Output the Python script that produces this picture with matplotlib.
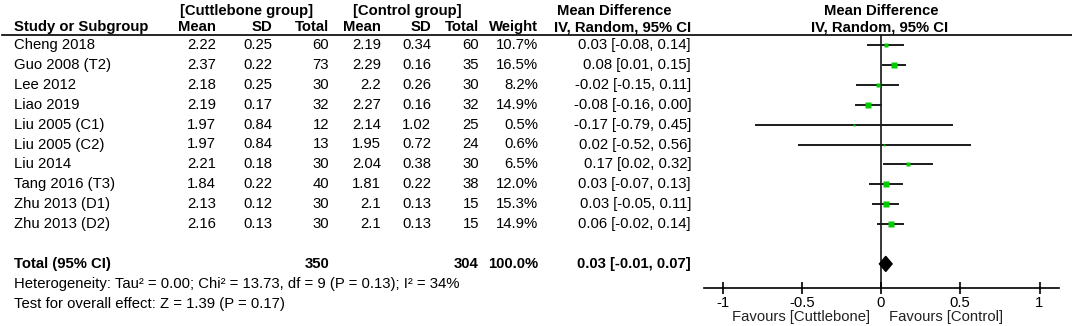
import matplotlib
matplotlib.use("Agg")
import matplotlib.pyplot as plt

plt.rcParams['font.family'] = ['Liberation Sans', 'DejaVu Sans']

# Study data
studies = ["Cheng 2018", "Guo 2008 (T2)", "Lee 2012", "Liao 2019", "Liu 2005 (C1)",
           "Liu 2005 (C2)", "Liu 2014", "Tang 2016 (T3)", "Zhu 2013 (D1)", "Zhu 2013 (D2)"]
cut_mean = [2.22, 2.37, 2.18, 2.19, 1.97, 1.97, 2.21, 1.84, 2.13, 2.16]
cut_sd = [0.25, 0.22, 0.25, 0.17, 0.84, 0.84, 0.18, 0.22, 0.12, 0.13]
cut_n = [60, 73, 30, 32, 12, 13, 30, 40, 30, 30]
ctl_mean = [2.19, 2.29, 2.2, 2.27, 2.14, 1.95, 2.04, 1.81, 2.1, 2.1]
ctl_sd = [0.34, 0.16, 0.26, 0.16, 1.02, 0.72, 0.38, 0.22, 0.13, 0.13]
ctl_n = [60, 35, 30, 32, 25, 24, 30, 38, 15, 15]
weights = [10.7, 16.5, 8.2, 14.9, 0.5, 0.6, 6.5, 12.0, 15.3, 14.9]
md = [0.03, 0.08, -0.02, -0.08, -0.17, 0.02, 0.17, 0.03, 0.03, 0.06]
ci_lo = [-0.08, 0.01, -0.15, -0.16, -0.79, -0.52, 0.02, -0.07, -0.05, -0.02]
ci_hi = [0.14, 0.15, 0.11, 0.00, 0.45, 0.56, 0.32, 0.13, 0.11, 0.14]

total_cut_n = 350
total_ctl_n = 304
total_weight = 100.0
total_md = 0.03
total_lo = -0.01
total_hi = 0.07

heterogeneity = "Heterogeneity: Tau² = 0.00; Chi² = 13.73, df = 9 (P = 0.13); I² = 34%"
overall = "Test for overall effect: Z = 1.39 (P = 0.17)"
xticks = [-1, -0.5, 0, 0.5, 1]
xtick_labels = ["-1", "-0.5", "0", "0.5", "1"]

W, H = 1072, 326
FS = 10.7
ROW0, ROWH = 45, 19.9
TOTAL_ROW = 11


def row_y(i):
    return ROW0 + ROWH * i


fig = plt.figure(figsize=(W / 100, H / 100), dpi=100)

# text table, pixel coordinates
tax = fig.add_axes([0, 0, 1, 1])
tax.set_xlim(0, W)
tax.set_ylim(H, 0)
tax.axis("off")

# header
tax.text(180, 11, "[Cuttlebone group]", fontsize=FS, weight="bold", va="center")
tax.text(353, 11, "[Control group]", fontsize=FS, weight="bold", va="center")
tax.text(614, 11, "Mean Difference", fontsize=FS, weight="bold", va="center", ha="center")
tax.text(881, 11, "Mean Difference", fontsize=FS, weight="bold", va="center", ha="center")

cols = [(216, "Mean"), (272, "SD"), (329, "Total"), (381, "Mean"), (431, "SD"),
        (479, "Total"), (538, "Weight"), (691, "IV, Random, 95% CI")]
tax.text(14, 27, "Study or Subgroup", fontsize=FS, weight="bold", va="center")
for x, lab in cols:
    tax.text(x, 27, lab, fontsize=FS, weight="bold", va="center", ha="right")
tax.text(880, 27, "IV, Random, 95% CI", fontsize=FS, weight="bold", va="center", ha="center")
tax.plot([2, W], [35, 35], color="black", lw=1.2)

# study rows
for i, name in enumerate(studies):
    y = row_y(i)
    vals = [str(cut_mean[i]), str(cut_sd[i]), str(cut_n[i]),
            str(ctl_mean[i]), str(ctl_sd[i]), str(ctl_n[i]),
            "%.1f%%" % weights[i],
            "%.2f [%.2f, %.2f]" % (md[i], ci_lo[i], ci_hi[i])]
    tax.text(14, y, name, fontsize=FS, va="center")
    for (x, _), v in zip(cols, vals):
        tax.text(x, y, v, fontsize=FS, va="center", ha="right")

# total row
yt = row_y(TOTAL_ROW)
tax.text(14, yt, "Total (95% CI)", fontsize=FS, weight="bold", va="center")
tax.text(329, yt, str(total_cut_n), fontsize=FS, weight="bold", va="center", ha="right")
tax.text(479, yt, str(total_ctl_n), fontsize=FS, weight="bold", va="center", ha="right")
tax.text(538, yt, "%.1f%%" % total_weight, fontsize=FS, weight="bold", va="center", ha="right")
tax.text(691, yt, "%.2f [%.2f, %.2f]" % (total_md, total_lo, total_hi),
         fontsize=FS, weight="bold", va="center", ha="right")
tax.text(14, row_y(12), heterogeneity, fontsize=FS, va="center")
tax.text(14, row_y(13), overall, fontsize=FS, va="center")

tax.text(801, 317, "Favours [Cuttlebone]", fontsize=FS, va="center", ha="center", color="#222222")
tax.text(946, 317, "Favours [Control]", fontsize=FS, va="center", ha="center", color="#222222")

# forest panel
x0, unit = 881, 158.5
left, right, top, bottom = 704, 1059, 35, 288
fax = fig.add_axes([left / W, (H - bottom) / H, (right - left) / W, (bottom - top) / H])
fax.set_xlim((left - x0) / unit, (right - x0) / unit)
fax.set_ylim((bottom - ROW0) / ROWH, (top - ROW0) / ROWH)
fax.patch.set_alpha(0)
for s in ["top", "left", "right"]:
    fax.spines[s].set_visible(False)
fax.spines["bottom"].set_linewidth(1.2)
fax.set_yticks([])
fax.set_xticks(xticks)
fax.set_xticklabels(xtick_labels, fontsize=FS)
fax.tick_params(axis="x", direction="inout", length=9, width=1.2, pad=1)

fax.axvline(0, color="black", lw=1.1)
for i in range(len(studies)):
    fax.plot([ci_lo[i], ci_hi[i]], [i, i], color="#1a1a1a", lw=1.4)
    side = max(2.5, 1.5 * weights[i] ** 0.5)
    fax.plot(md[i], i, "s", color="#00cc00", ms=side * 0.72, mec="none")

dh = 0.38
fax.fill([total_lo, total_md, total_hi, total_md],
         [TOTAL_ROW, TOTAL_ROW - dh, TOTAL_ROW, TOTAL_ROW + dh], color="black")

fig.savefig("out.png", dpi=100)
